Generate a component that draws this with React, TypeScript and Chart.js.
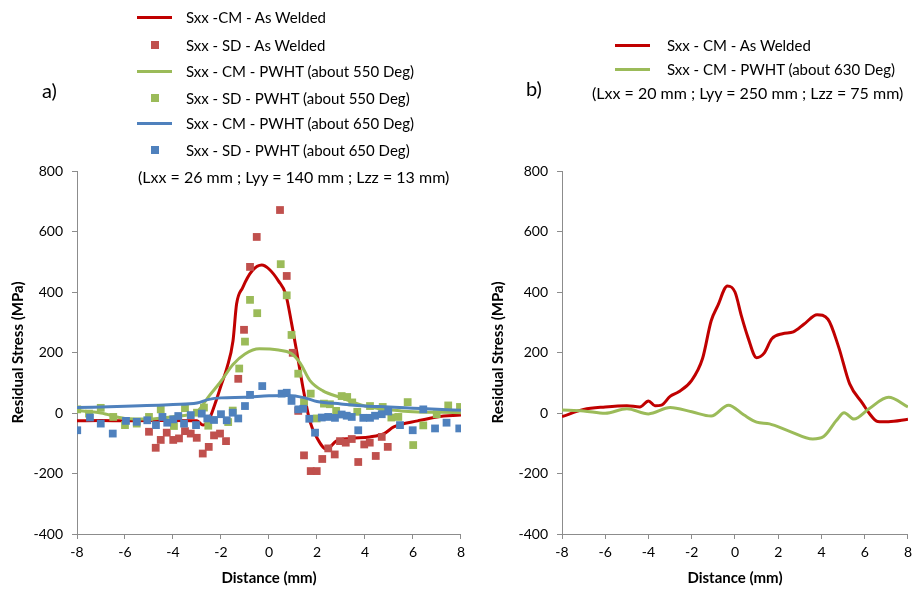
import React, { useEffect, useRef } from "react";
import { Chart, registerables } from "chart.js";

Chart.register(...registerables);

const FONT = "Lato, 'Open Sans', sans-serif";

// ---------- Chart a) ----------
// Sxx - CM - As Welded (line)
const aAwCmX = [-8, -7, -6, -5, -4, -3, -2.75, -2.5, -2.25, -2, -1.75, -1.5, -1.35, -1.1, -0.7, -0.3, 0, 0.4, 0.7, 0.95, 1.2, 1.45, 1.7, 2, 2.4, 2.8, 3.4, 4.2, 4.8, 5.2, 6.2, 7, 8];
const aAwCmY = [-26, -25, -26, -25, -25, -26, -40, -22, 30, 90, 150, 238, 360, 414, 470, 489, 476, 436, 392, 293, 183, 70, -26, -82, -120, -93, -84, -79, -68, -46, -26, -13, -7];

// Sxx - SD - As Welded (markers)
const aAwSdX = [-5.0, -4.72, -4.51, -4.26, -3.99, -3.75, -3.5, -3.26, -3.01, -2.76, -2.51, -2.29, -2.04, -1.79, -1.28, -1.04, -0.79, -0.51, 0.46, 0.74, 0.99, 1.22, 1.46, 1.74, 1.99, 2.22, 2.47, 2.74, 2.96, 3.2, 3.45, 3.72, 3.97, 4.2, 4.45, 4.7, 4.95];
const aAwSdY = [-62, -115, -89, -65, -89, -84, -60, -68, -82, -134, -112, -74, -68, -93, 113, 275, 483, 582, 671, 453, 199, 7, -140, -192, -192, -152, -117, -137, -93, -98, -86, -162, -104, -98, -142, -79, -112];

// Sxx - CM - PWHT (about 550 Deg) (line)
const a550CmX = [-8, -7, -6, -5, -4, -3, -2.5, -2, -1.5, -1, -0.4, 0.4, 0.9, 1.3, 1.7, 2.25, 3, 4, 5.5, 8];
const a550CmY = [8, 0, -18, -20, -12, 5, 56, 105, 160, 195, 212, 208, 198, 165, 108, 73, 51, 23, 7, 1];

// Sxx - SD - PWHT (about 550 Deg) (markers)
const a550SdX = [-7.99, -7.5, -7.01, -6.49, -6.0, -5.51, -5.0, -4.51, -3.96, -3.5, -3.0, -2.71, -2.53, -1.7, -1.51, -1.24, -1.0, -0.79, -0.49, 0.49, 0.74, 0.94, 1.22, 1.46, 1.74, 1.99, 2.29, 2.54, 2.8, 3.03, 3.26, 3.47, 3.68, 4.21, 4.74, 5.1, 5.39, 5.78, 6.01, 6.43, 6.99, 7.47, 7.96];
const a550SdY = [12, -2, 17, -13, -40, -35, -13, 12, -43, 16, 1, 18, -42, -30, 8, 147, 236, 374, 330, 492, 389, 258, 130, 36, 64, -18, 31, 29, 7, 56, 53, 35, 4, 23, 20, -15, -13, 36, -106, -41, -4, 25, 20];

// Sxx - CM - PWHT (about 650 Deg) (line)
const a650CmX = [-8, -6, -4, -3, -2.5, -2, -1, 0, 0.8, 1.5, 2, 3, 4, 5, 6, 7, 8];
const a650CmY = [18, 22, 28, 33, 45, 50, 52, 57, 58, 50, 38, 30, 23, 20, 16, 12, 9];

// Sxx - SD - PWHT (about 650 Deg) (markers)
const a650SdX = [-7.99, -7.46, -7.01, -6.51, -5.96, -5.51, -5.07, -4.71, -4.44, -4.24, -3.99, -3.78, -3.54, -3.26, -3.04, -2.8, -2.57, -2.29, -2.0, -1.76, -1.51, -1.28, -1.0, -0.79, -0.28, 0.53, 0.74, 0.94, 1.22, 1.43, 1.68, 1.92, 2.2, 2.47, 2.75, 3.03, 3.24, 3.45, 3.72, 3.93, 4.21, 4.42, 4.7, 4.97, 5.46, 5.99, 6.43, 6.92, 7.4, 7.93];
const a650SdY = [-57, -15, -35, -68, -26, -29, -24, -40, -13, -32, -21, -10, -35, -7, -40, -2, -18, -23, -4, -24, 1, -18, 23, 60, 89, 64, 67, 40, 12, 14, -19, -65, -15, -13, -16, -5, -9, -13, -57, -16, -16, -9, -4, 5, -40, -57, 12, -51, -32, -51];

// ---------- Chart b) ----------
const bAwCmX = [-8, -7, -6, -5, -4.4, -4, -3.7, -3.4, -3, -2.6, -2, -1.5, -1.1, -0.8, -0.35, 0, 0.3, 0.6, 1, 1.35, 1.7, 2.2, 2.7, 3.2, 3.8, 4.3, 4.8, 5.3, 5.9, 6.2, 6.6, 7.1, 8];
const bAwCmY = [-12, 12, 20, 24, 20, 40, 24, 26, 55, 70, 108, 180, 305, 354, 420, 400, 320, 250, 183, 198, 245, 262, 268, 294, 325, 310, 217, 97, 32, 0, -28, -29, -21];

const b630CmX = [-8, -7, -6, -5, -4, -3, -2, -1.1, -0.3, 0.4, 1, 1.6, 2.5, 3.6, 4.1, 4.7, 5.05, 5.5, 6.2, 7.1, 8];
const b630CmY = [10, 7, -1, 14, -3, 18, 4, -10, 26, -6, -30, -36, -60, -86, -78, -24, 1, -20, 14, 52, 20];

// axes
const X_MIN = -8;
const X_MAX = 8;
const X_STEP = 2;
const Y_MIN = -400;
const Y_MAX = 800;
const Y_STEP = 200;
const X_TITLE = "Distance (mm)";
const Y_TITLE = "Residual Stress (MPa)";

const RED_LINE = "#C00000";
const RED_MARK = "#C0504D";
const GREEN = "#9BBB59";
const BLUE = "#4F81BD";
const AXIS = "#8C8C8C";

const zip = (xs: number[], ys: number[]) => xs.map((x, i) => ({ x, y: ys[i] }));

function lineDs(label: string, xs: number[], ys: number[], color: string, order: number) {
  return {
    label,
    data: zip(xs, ys),
    showLine: true,
    borderColor: color,
    backgroundColor: color,
    borderWidth: 3,
    pointRadius: 0,
    tension: 0.4,
    cubicInterpolationMode: "monotone" as const,
    order,
  };
}

function markDs(label: string, xs: number[], ys: number[], color: string, order: number) {
  return {
    label,
    data: zip(xs, ys),
    showLine: false,
    borderColor: color,
    backgroundColor: color,
    borderWidth: 0,
    pointStyle: "rect" as const,
    pointRadius: 5.5,
    order,
  };
}

function makeOptions(yWidth: number, padRight: number) {
  const tickFont = { family: FONT, size: 14 };
  const titleFont = { family: FONT, size: 15, weight: "bold" as const };
  return {
    animation: false as const,
    responsive: false,
    maintainAspectRatio: false,
    layout: { padding: { top: 171, right: padRight, left: 0, bottom: 0 } },
    plugins: { legend: { display: false }, tooltip: { enabled: false } },
    scales: {
      x: {
        type: "linear" as const,
        min: X_MIN,
        max: X_MAX,
        ticks: { stepSize: X_STEP, font: tickFont, color: "#000", padding: 5, maxRotation: 0 },
        grid: { drawOnChartArea: false, drawTicks: true, tickLength: 5, color: AXIS },
        border: { color: AXIS, width: 1 },
        title: { display: true, text: X_TITLE, font: titleFont, color: "#000", padding: { top: 2, bottom: 5 } },
        afterFit: (s: any) => {
          s.height = 58;
        },
      },
      y: {
        type: "linear" as const,
        min: Y_MIN,
        max: Y_MAX,
        ticks: { stepSize: Y_STEP, font: tickFont, color: "#000", padding: 9 },
        grid: { drawOnChartArea: false, drawTicks: true, tickLength: 5, color: AXIS },
        border: { color: AXIS, width: 1 },
        title: { display: true, text: Y_TITLE, font: titleFont, color: "#000", padding: { top: 9, bottom: 0 } },
        afterFit: (s: any) => {
          s.width = yWidth;
        },
      },
    },
  };
}

const txt: React.CSSProperties = {
  position: "absolute",
  fontFamily: FONT,
  fontSize: 15,
  lineHeight: "20px",
  color: "#000",
  whiteSpace: "nowrap",
};

function LineSym({ x, cy, color }: { x: number; cy: number; color: string }) {
  return <div style={{ position: "absolute", left: x, top: cy - 1.5, width: 35, height: 3, background: color }} />;
}
function MarkSym({ cx, cy, color }: { cx: number; cy: number; color: string }) {
  return <div style={{ position: "absolute", left: cx - 4, top: cy - 4, width: 8, height: 8, background: color }} />;
}
function Label({ x, cy, text, size }: { x: number; cy: number; text: string; size?: number }) {
  return <div style={{ ...txt, left: x, top: cy - 10, fontSize: size ?? 15 }}>{text}</div>;
}

export default function App() {
  const leftRef = useRef<HTMLCanvasElement>(null);
  const rightRef = useRef<HTMLCanvasElement>(null);

  useEffect(() => {
    const left = new Chart(leftRef.current!, {
      type: "scatter",
      data: {
        datasets: [
          lineDs("Sxx -CM - As Welded", aAwCmX, aAwCmY, RED_LINE, 5),
          markDs("Sxx - SD - As Welded", aAwSdX, aAwSdY, RED_MARK, 4),
          lineDs("Sxx - CM - PWHT (about 550 Deg)", a550CmX, a550CmY, GREEN, 3),
          markDs("Sxx - SD - PWHT (about 550 Deg)", a550SdX, a550SdY, GREEN, 2),
          lineDs("Sxx - CM - PWHT (about 650 Deg)", a650CmX, a650CmY, BLUE, 1),
          markDs("Sxx - SD - PWHT (about 650 Deg)", a650SdX, a650SdY, BLUE, 0),
        ] as any,
      },
      options: makeOptions(77, 9) as any,
    });
    const right = new Chart(rightRef.current!, {
      type: "scatter",
      data: {
        datasets: [
          lineDs("Sxx - CM - As Welded", bAwCmX, bAwCmY, RED_LINE, 1),
          lineDs("Sxx - CM - PWHT (about 630 Deg)", b630CmX, b630CmY, GREEN, 0),
        ] as any,
      },
      options: makeOptions(82, 4) as any,
    });
    return () => {
      left.destroy();
      right.destroy();
    };
  }, []);

  return (
    <div style={{ position: "fixed", left: 0, top: 0, width: 917, height: 592, background: "#fff", overflow: "hidden" }}>
      <canvas ref={leftRef} width={470} height={592} style={{ position: "absolute", left: 0, top: 0, width: 470, height: 592 }} />
      <canvas ref={rightRef} width={437} height={592} style={{ position: "absolute", left: 480, top: 0, width: 437, height: 592 }} />

      {/* legend a) */}
      <LineSym x={137} cy={17} color={RED_LINE} />
      <Label x={186} cy={17} text="Sxx -CM - As Welded" />
      <MarkSym cx={155} cy={45} color={RED_MARK} />
      <Label x={186} cy={45} text="Sxx - SD - As Welded" />
      <LineSym x={137} cy={71} color={GREEN} />
      <Label x={186} cy={71} text="Sxx - CM - PWHT (about 550 Deg)" />
      <MarkSym cx={155} cy={98} color={GREEN} />
      <Label x={186} cy={98} text="Sxx - SD - PWHT (about 550 Deg)" />
      <LineSym x={137} cy={123} color={BLUE} />
      <Label x={186} cy={123} text="Sxx - CM - PWHT (about 650 Deg)" />
      <MarkSym cx={155} cy={150} color={BLUE} />
      <Label x={186} cy={150} text="Sxx - SD - PWHT (about 650 Deg)" />
      <Label x={138} cy={177} text="(Lxx = 26 mm ; Lyy = 140 mm ; Lzz = 13 mm)" size={16} />
      <Label x={42} cy={90} text="a)" size={20} />

      {/* legend b) */}
      <LineSym x={615} cy={45} color={RED_LINE} />
      <Label x={667} cy={45} text="Sxx - CM - As Welded" />
      <LineSym x={615} cy={69} color={GREEN} />
      <Label x={667} cy={69} text="Sxx - CM - PWHT (about 630 Deg)" />
      <Label x={592} cy={93} text="(Lxx = 20 mm ; Lyy = 250 mm ; Lzz = 75 mm)" size={16} />
      <Label x={526} cy={88} text="b)" size={20} />
    </div>
  );
}
